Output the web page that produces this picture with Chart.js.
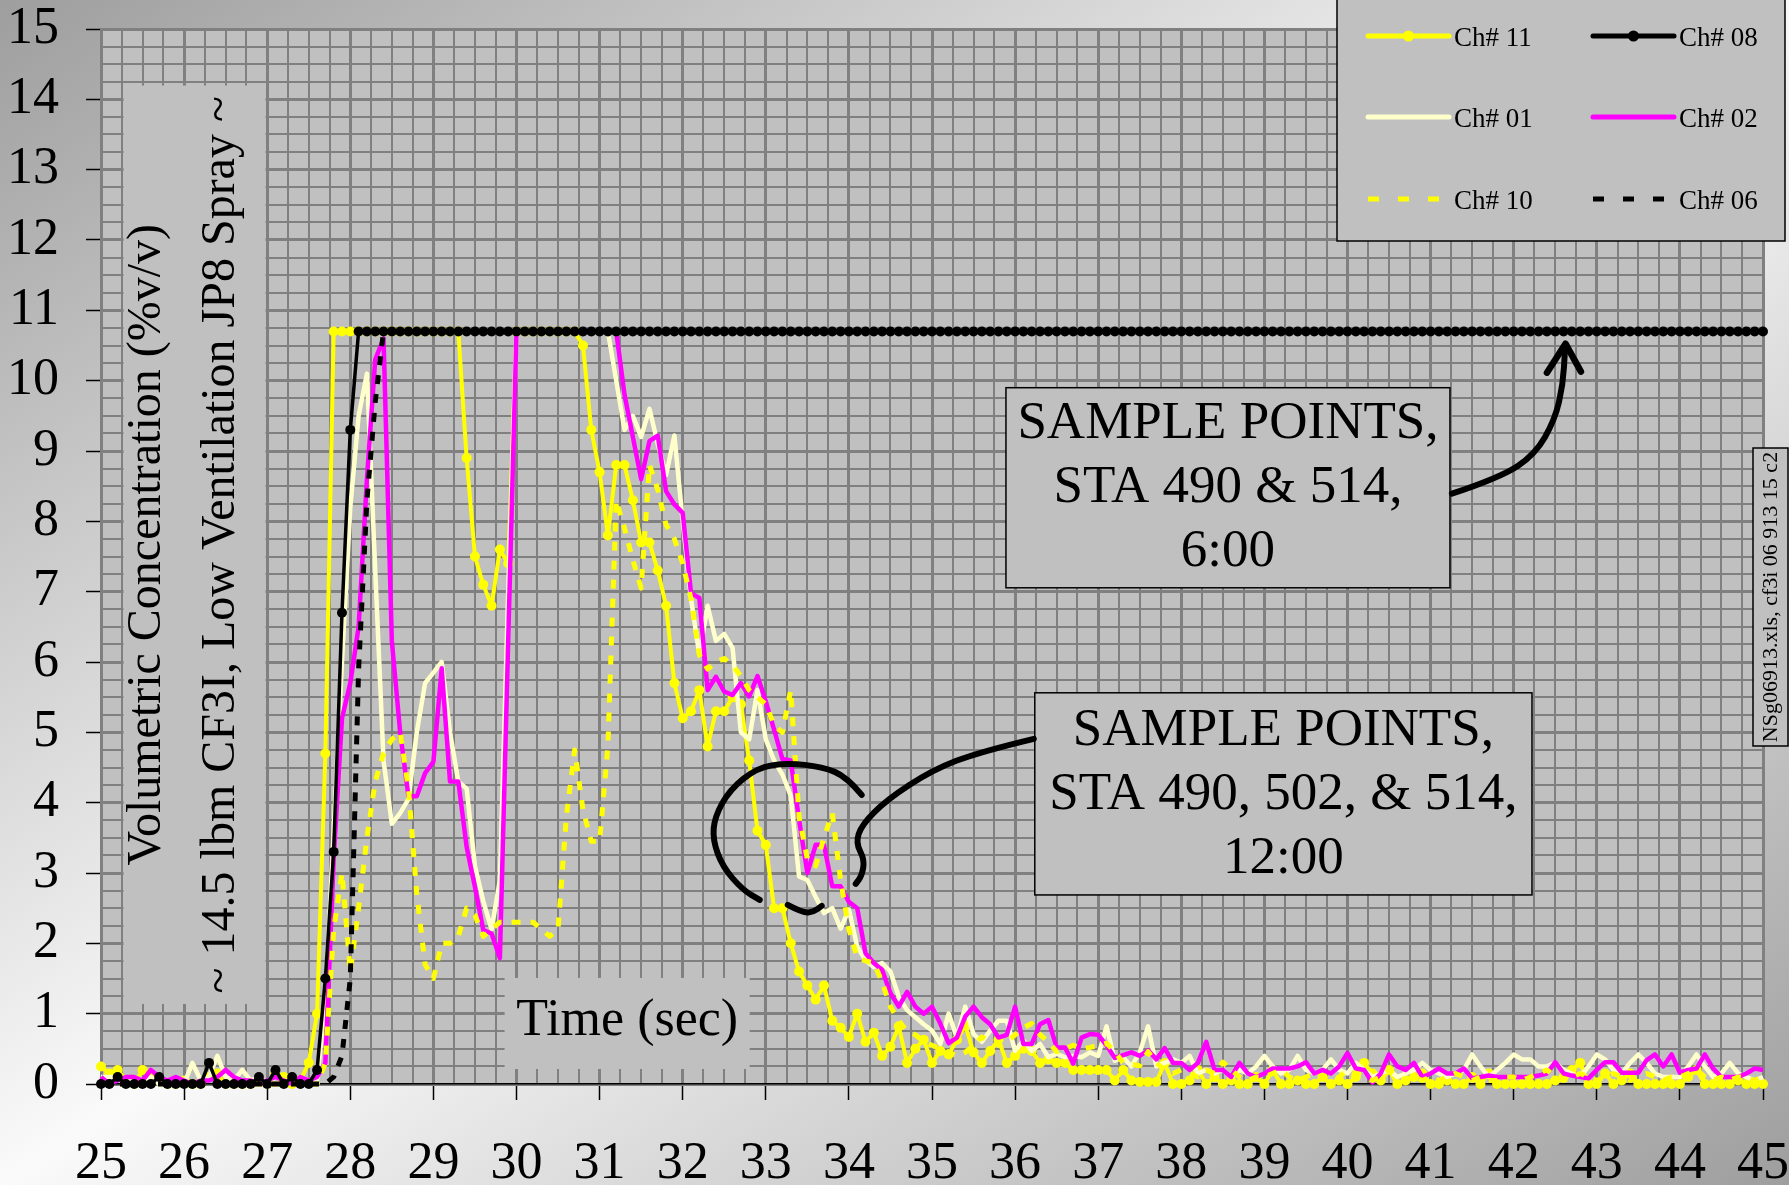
<!DOCTYPE html>
<html>
<head>
<meta charset="utf-8">
<title>Volumetric Concentration - CF3I Low Ventilation JP8 Spray</title>
<script src="https://cdn.jsdelivr.net/npm/chart.js@4.4.1/dist/chart.umd.min.js"></script>
<style>
  html, body { margin: 0; padding: 0; background: #fff; }
  canvas { display: block; }
</style>
</head>
<body>
<canvas id="concChart" width="1789" height="1185"></canvas>
<script>
// sample times (sec), 0.1 s apart
const times = [
  25.0, 25.1, 25.2, 25.3, 25.4, 25.5, 25.6, 25.7, 25.8, 25.9,
  26.0, 26.1, 26.2, 26.3, 26.4, 26.5, 26.6, 26.7, 26.8, 26.9,
  27.0, 27.1, 27.2, 27.3, 27.4, 27.5, 27.6, 27.7, 27.8, 27.9,
  28.0, 28.1, 28.2, 28.3, 28.4, 28.5, 28.6, 28.7, 28.8, 28.9,
  29.0, 29.1, 29.2, 29.3, 29.4, 29.5, 29.6, 29.7, 29.8, 29.9,
  30.0, 30.1, 30.2, 30.3, 30.4, 30.5, 30.6, 30.7, 30.8, 30.9,
  31.0, 31.1, 31.2, 31.3, 31.4, 31.5, 31.6, 31.7, 31.8, 31.9,
  32.0, 32.1, 32.2, 32.3, 32.4, 32.5, 32.6, 32.7, 32.8, 32.9,
  33.0, 33.1, 33.2, 33.3, 33.4, 33.5, 33.6, 33.7, 33.8, 33.9,
  34.0, 34.1, 34.2, 34.3, 34.4, 34.5, 34.6, 34.7, 34.8, 34.9,
  35.0, 35.1, 35.2, 35.3, 35.4, 35.5, 35.6, 35.7, 35.8, 35.9,
  36.0, 36.1, 36.2, 36.3, 36.4, 36.5, 36.6, 36.7, 36.8, 36.9,
  37.0, 37.1, 37.2, 37.3, 37.4, 37.5, 37.6, 37.7, 37.8, 37.9,
  38.0, 38.1, 38.2, 38.3, 38.4, 38.5, 38.6, 38.7, 38.8, 38.9,
  39.0, 39.1, 39.2, 39.3, 39.4, 39.5, 39.6, 39.7, 39.8, 39.9,
  40.0, 40.1, 40.2, 40.3, 40.4, 40.5, 40.6, 40.7, 40.8, 40.9,
  41.0, 41.1, 41.2, 41.3, 41.4, 41.5, 41.6, 41.7, 41.8, 41.9,
  42.0, 42.1, 42.2, 42.3, 42.4, 42.5, 42.6, 42.7, 42.8, 42.9,
  43.0, 43.1, 43.2, 43.3, 43.4, 43.5, 43.6, 43.7, 43.8, 43.9,
  44.0, 44.1, 44.2, 44.3, 44.4, 44.5, 44.6, 44.7, 44.8, 44.9,
  45.0
];

// %v/v readings per channel (sensor saturates at 10.7)
const ch11 = [
  0.25, 0.15, 0.2, 0.05, 0, 0.2, 0.1, 0.05, 0, 0,
  0.05, 0, 0, 0.1, 0.15, 0, 0, 0, 0, 0.05,
  0, 0.15, 0.1, 0, 0.05, 0.3, 1.0, 4.7, 10.7, 10.7,
  10.7, 10.7, 10.7, 10.7, 10.7, 10.7, 10.7, 10.7, 10.7, 10.7,
  10.7, 10.7, 10.7, 10.7, 8.9, 7.5, 7.1, 6.8, 7.6, 7.4,
  10.7, 10.7, 10.7, 10.7, 10.7, 10.7, 10.7, 10.7, 10.5, 9.3,
  8.7, 7.8, 8.8, 8.8, 8.3, 7.7, 7.7, 7.3, 6.8, 5.7,
  5.2, 5.3, 5.6, 4.8, 5.3, 5.3, 5.5, 5.4, 4.6, 3.6,
  3.4, 2.5, 2.5, 2.0, 1.6, 1.4, 1.2, 1.4, 0.9, 0.8,
  0.67, 1.0, 0.6, 0.73, 0.4, 0.53, 0.82, 0.3, 0.5, 0.63,
  0.3, 0.47, 0.42, 0.63, 0.83, 0.45, 0.3, 0.47, 0.63, 0.3,
  0.4, 0.5, 0.47, 0.3, 0.35, 0.3, 0.3, 0.2, 0.2, 0.2,
  0.2, 0.2, 0.05, 0.2, 0.05, 0.03, 0.03, 0.03, 0.3, 0,
  0, 0.05, 0.2, 0, 0.1, 0, 0.05, 0, 0, 0.1,
  0, 0.2, 0, 0, 0.05, 0, 0, 0.1, 0, 0.05,
  0, 0.1, 0.3, 0.15, 0.05, 0.2, 0, 0.05, 0.1, 0.15,
  0, 0, 0.05, 0, 0, 0.1, 0, 0.15, 0, 0,
  0, 0, 0, 0, 0, 0.05, 0.1, 0.2, 0.3, 0,
  0, 0.15, 0, 0.05, 0.15, 0, 0, 0, 0, 0,
  0, 0.1, 0.2, 0, 0, 0, 0, 0.05, 0, 0,
  0
];

const ch08 = [
  0, 0, 0.1, 0, 0, 0, 0, 0.1, 0, 0,
  0, 0, 0, 0.3, 0, 0, 0, 0, 0, 0.1,
  0, 0.2, 0, 0.1, 0, 0, 0.2, 1.5, 3.3, 6.7,
  9.3, 10.7, 10.7, 10.7, 10.7, 10.7, 10.7, 10.7, 10.7, 10.7,
  10.7, 10.7, 10.7, 10.7, 10.7, 10.7, 10.7, 10.7, 10.7, 10.7,
  10.7, 10.7, 10.7, 10.7, 10.7, 10.7, 10.7, 10.7, 10.7, 10.7,
  10.7, 10.7, 10.7, 10.7, 10.7, 10.7, 10.7, 10.7, 10.7, 10.7,
  10.7, 10.7, 10.7, 10.7, 10.7, 10.7, 10.7, 10.7, 10.7, 10.7,
  10.7, 10.7, 10.7, 10.7, 10.7, 10.7, 10.7, 10.7, 10.7, 10.7,
  10.7, 10.7, 10.7, 10.7, 10.7, 10.7, 10.7, 10.7, 10.7, 10.7,
  10.7, 10.7, 10.7, 10.7, 10.7, 10.7, 10.7, 10.7, 10.7, 10.7,
  10.7, 10.7, 10.7, 10.7, 10.7, 10.7, 10.7, 10.7, 10.7, 10.7,
  10.7, 10.7, 10.7, 10.7, 10.7, 10.7, 10.7, 10.7, 10.7, 10.7,
  10.7, 10.7, 10.7, 10.7, 10.7, 10.7, 10.7, 10.7, 10.7, 10.7,
  10.7, 10.7, 10.7, 10.7, 10.7, 10.7, 10.7, 10.7, 10.7, 10.7,
  10.7, 10.7, 10.7, 10.7, 10.7, 10.7, 10.7, 10.7, 10.7, 10.7,
  10.7, 10.7, 10.7, 10.7, 10.7, 10.7, 10.7, 10.7, 10.7, 10.7,
  10.7, 10.7, 10.7, 10.7, 10.7, 10.7, 10.7, 10.7, 10.7, 10.7,
  10.7, 10.7, 10.7, 10.7, 10.7, 10.7, 10.7, 10.7, 10.7, 10.7,
  10.7, 10.7, 10.7, 10.7, 10.7, 10.7, 10.7, 10.7, 10.7, 10.7,
  10.7
];

const ch01 = [
  0.1, 0.1, 0.1, 0, 0.1, 0.05, 0.1, 0, 0.05, 0,
  0, 0.3, 0.05, 0.1, 0.4, 0.1, 0.05, 0.2, 0.05, 0.1,
  0, 0.1, 0.05, 0, 0, 0, 0.05, 1.2, 3.6, 6.0,
  8.2, 9.5, 10.1, 7.3, 4.6, 3.7, 3.85, 4.05, 5.0, 5.7,
  5.85, 6.0, 5.0, 4.3, 4.2, 3.1, 2.6, 2.2, 2.9, 7.0,
  10.7, 10.7, 10.7, 10.7, 10.7, 10.7, 10.7, 10.7, 10.7, 10.7,
  10.7, 10.7, 10.0, 9.3, 9.5, 9.2, 9.6, 9.1, 8.66, 9.22,
  8.0, 6.9, 6.1, 6.8, 6.3, 6.4, 6.2, 5.0, 4.9, 5.6,
  4.9, 4.6, 4.4, 4.1, 2.95, 2.9, 2.66, 2.43, 2.5, 2.21,
  2.48, 1.95, 1.76, 1.66, 1.72, 1.6, 1.24, 1.05, 0.95, 0.85,
  0.76, 0.57, 1.0, 0.66, 1.1, 0.71, 0.6, 0.76, 0.9, 0.9,
  0.47, 0.62, 0.47, 0.57, 0.38, 0.43, 0.38, 0.4, 0.38, 0.45,
  0.4, 0.82, 0.33, 0.38, 0.25, 0.45, 0.82, 0.25, 0.3, 0.35,
  0.3, 0.4, 0.15, 0.2, 0.15, 0.2, 0.1, 0.2, 0.15, 0.25,
  0.4, 0.25, 0.15, 0.2, 0.4, 0.2, 0.15, 0.2, 0.35, 0.2,
  0.15, 0.3, 0.2, 0.1, 0.15, 0.2, 0.1, 0.15, 0.2, 0.3,
  0.2, 0.15, 0.1, 0.15, 0.2, 0.42, 0.25, 0.1, 0.2, 0.3,
  0.42, 0.35, 0.35, 0.25, 0.25, 0.3, 0.2, 0.15, 0.1, 0.25,
  0.42, 0.35, 0.2, 0.15, 0.3, 0.42, 0.3, 0.15, 0.1, 0.1,
  0.1, 0.25, 0.42, 0.25, 0.1, 0.15, 0.3, 0.15, 0.1, 0.05,
  0.1
];

const ch02 = [
  0.1, 0, 0.05, 0.1, 0.1, 0.05, 0.2, 0.1, 0.05, 0.1,
  0.05, 0, 0.05, 0.05, 0.1, 0.2, 0.1, 0.05, 0.05, 0,
  0.05, 0.1, 0.05, 0, 0.1, 0.05, 0.1, 0.3, 3.2, 5.2,
  5.7, 6.5, 8.6, 10.3, 10.6, 6.3, 5.0, 4.09, 4.09, 4.42,
  4.58, 5.91, 4.3, 4.3, 3.37, 2.8, 2.19, 2.14, 1.79, 6.3,
  10.7, 10.7, 10.7, 10.7, 10.7, 10.7, 10.7, 10.7, 10.7, 10.7,
  10.7, 10.7, 10.7, 9.8, 9.2, 8.6, 9.14, 9.22, 8.43, 8.24,
  8.12, 6.98, 6.91, 5.6, 5.79, 5.58, 5.53, 5.7, 5.51, 5.8,
  5.44, 5.04, 4.62, 4.6, 3.76, 3.0, 3.4, 3.4, 2.81, 2.81,
  2.59, 2.5, 1.86, 1.72, 1.62, 1.29, 1.1, 1.31, 1.1, 1.0,
  1.1, 0.86, 0.58, 0.66, 0.96, 1.1, 0.95, 0.85, 0.66, 0.7,
  1.1, 0.57, 0.57, 0.85, 0.91, 0.52, 0.52, 0.29, 0.66, 0.71,
  0.7, 0.55, 0.37, 0.41, 0.45, 0.4, 0.48, 0.35, 0.51, 0.3,
  0.3, 0.2, 0.3, 0.6, 0.2, 0.2, 0.1, 0.3, 0.15, 0.1,
  0.15, 0.22, 0.22, 0.22, 0.25, 0.31, 0.15, 0.2, 0.15, 0.25,
  0.44, 0.22, 0.2, 0.02, 0.15, 0.42, 0.25, 0.2, 0.3, 0.1,
  0.15, 0.22, 0.15, 0.15, 0.22, 0.08, 0.1, 0.12, 0.1, 0.1,
  0.1, 0.1, 0.1, 0.12, 0.15, 0.31, 0.15, 0.12, 0.1, 0.08,
  0.2, 0.31, 0.31, 0.16, 0.16, 0.16, 0.34, 0.42, 0.25, 0.42,
  0.16, 0.2, 0.22, 0.42, 0.22, 0.1, 0.1, 0.1, 0.15, 0.22,
  0.2
];

const ch10 = [
  0, 0, 0, 0, 0, 0, 0, 0, 0, 0,
  0, 0, 0, 0, 0, 0, 0, 0, 0, 0,
  0, 0, 0, 0, 0, 0, 0, 0.3, 2.2, 3.0,
  1.6, 2.5, 3.5, 4.3, 4.7, 4.9, 5.0, 4.2, 2.7, 1.7,
  1.5, 2.0, 2.0, 2.1, 2.5, 2.4, 2.1, 2.2, 2.3, 2.3,
  2.3, 2.3, 2.3, 2.2, 2.1, 2.2, 3.8, 4.75, 3.9, 3.45,
  3.45, 4.8, 8.3, 7.9, 7.45, 7.05, 8.8, 8.45, 7.95, 7.75,
  7.4, 6.9, 6.1, 5.9, 6.0, 6.05, 5.95, 5.8, 5.6, 5.5,
  5.4, 5.1, 5.0, 5.6, 3.8, 3.2, 3.1, 3.5, 3.85, 2.9,
  2.2, 1.8, 1.75, 1.72, 1.45, 1.1, 0.9, 0.75, 0.7, 0.6,
  0.55, 0.5, 0.45, 0.4, 0.45, 0.55, 0.67, 0.6, 0.55, 0.6,
  0.7, 0.8, 0.86, 0.7, 0.6, 0.46, 0.5, 0.55, 0.5, 0.52,
  0.55, 0.58, 0.46, 0.3, 0.28, 0.26, 0.46, 0.3, 0.2, 0.15,
  0.2, 0.15, 0.1, 0.2, 0.15, 0.31, 0.2, 0.1, 0.05, 0.1,
  0.1, 0.15, 0.2, 0.1, 0.05, 0.1, 0.15, 0.1, 0.05, 0.1,
  0.2, 0.15, 0.1, 0.05, 0.1, 0.2, 0.1, 0.05, 0.1, 0.05,
  0.1, 0.05, 0.1, 0.15, 0.1, 0.05, 0.1, 0.05, 0.05, 0.1,
  0.1, 0.05, 0.1, 0.15, 0.2, 0.1, 0.05, 0.1, 0.15, 0.1,
  0.05, 0.1, 0.15, 0.1, 0.05, 0.1, 0.15, 0.1, 0.05, 0.1,
  0.1, 0.15, 0.2, 0.1, 0.05, 0.1, 0.05, 0.1, 0.1, 0.05,
  0.1
];

const ch06 = [
  0, 0, 0, 0, 0, 0, 0, 0, 0, 0,
  0, 0, 0, 0, 0, 0, 0, 0, 0, 0,
  0, 0, 0, 0, 0, 0, 0, 0, 0.1, 0.4,
  1.5, 5.9, 8.3, 9.7, 10.7, 10.7, 10.7, 10.7, 10.7, 10.7,
  10.7, 10.7, 10.7, 10.7, 10.7, 10.7, 10.7, 10.7, 10.7, 10.7,
  10.7, 10.7, 10.7, 10.7, 10.7, 10.7, 10.7, 10.7, 10.7, 10.7,
  10.7, 10.7, 10.7, 10.7, 10.7, 10.7, 10.7, 10.7, 10.7, 10.7,
  10.7, 10.7, 10.7, 10.7, 10.7, 10.7, 10.7, 10.7, 10.7, 10.7,
  10.7, 10.7, 10.7, 10.7, 10.7, 10.7, 10.7, 10.7, 10.7, 10.7,
  10.7, 10.7, 10.7, 10.7, 10.7, 10.7, 10.7, 10.7, 10.7, 10.7,
  10.7, 10.7, 10.7, 10.7, 10.7, 10.7, 10.7, 10.7, 10.7, 10.7,
  10.7, 10.7, 10.7, 10.7, 10.7, 10.7, 10.7, 10.7, 10.7, 10.7,
  10.7, 10.7, 10.7, 10.7, 10.7, 10.7, 10.7, 10.7, 10.7, 10.7,
  10.7, 10.7, 10.7, 10.7, 10.7, 10.7, 10.7, 10.7, 10.7, 10.7,
  10.7, 10.7, 10.7, 10.7, 10.7, 10.7, 10.7, 10.7, 10.7, 10.7,
  10.7, 10.7, 10.7, 10.7, 10.7, 10.7, 10.7, 10.7, 10.7, 10.7,
  10.7, 10.7, 10.7, 10.7, 10.7, 10.7, 10.7, 10.7, 10.7, 10.7,
  10.7, 10.7, 10.7, 10.7, 10.7, 10.7, 10.7, 10.7, 10.7, 10.7,
  10.7, 10.7, 10.7, 10.7, 10.7, 10.7, 10.7, 10.7, 10.7, 10.7,
  10.7, 10.7, 10.7, 10.7, 10.7, 10.7, 10.7, 10.7, 10.7, 10.7,
  10.7
];

const SERIF = '"Liberation Serif", "Times New Roman", serif';
const yTitle = ["Volumetric Concentration (%v/v)", "~ 14.5 lbm CF3I, Low Ventilation JP8 Spray ~"];
const xTitle = "Time (sec)";
const fileTag = "NSg06913.xls, cf3i 06 913 15 c2";

// text boxes and hand-drawn callouts, placed in data units (sec, %v/v)
const notes = [
  { x0: 35.89, x1: 41.233, y0: 9.9, y1: 7.055, lineY: [9.381, 8.478, 7.568],
    lines: ["SAMPLE POINTS,", "STA 490 & 514,", "6:00"] },
  { x0: 36.237, x1: 42.22, y0: 5.562, y1: 2.688, lineY: [5.021, 4.111, 3.201],
    lines: ["SAMPLE POINTS,", "STA 490, 502, & 514,", "12:00"] }
];
const arrowUp = [[41.256, 8.393], [41.834, 8.62], [42.255, 8.947], [42.496, 9.445], [42.593, 9.943], [42.617, 10.441]];
const arrowHead = [[42.4, 10.114], [42.623, 10.526], [42.809, 10.128]];
const hook = [[36.225, 4.908], [35.575, 4.723], [35.009, 4.467], [34.455, 4.04], [34.154, 3.684], [34.082, 3.428], [34.19, 3.186], [34.154, 2.959], [34.082, 2.845]];
const loop = [[34.154, 4.111], [33.974, 4.367], [33.685, 4.509], [33.252, 4.566], [32.891, 4.495], [32.565, 4.182], [32.385, 3.798], [32.361, 3.471], [32.481, 3.087], [32.722, 2.76], [32.927, 2.617]];
const smile = [[33.264, 2.546], [33.444, 2.432], [33.577, 2.447], [33.673, 2.532]];

function pts(values) {
  return times.map((t, i) => ({ x: t, y: values[i] }));
}

const common = { tension: 0, clip: false, borderJoinStyle: "round", pointBorderWidth: 0, pointRadius: 0 };

// first dataset is drawn on top
const datasets = [
  { ...common, label: "Ch# 06", data: pts(ch06), borderColor: "#000000", borderWidth: 5, borderDash: [9, 10] },
  { ...common, label: "Ch# 08", data: pts(ch08), borderColor: "#000000", borderWidth: 3.5, pointRadius: 5, pointBackgroundColor: "#000000" },
  { ...common, label: "Ch# 10", data: pts(ch10), borderColor: "#ffff00", borderWidth: 5, borderDash: [9, 10] },
  { ...common, label: "Ch# 02", data: pts(ch02), borderColor: "#ff00ff", borderWidth: 4.5 },
  { ...common, label: "Ch# 01", data: pts(ch01), borderColor: "#ffffcc", borderWidth: 4.5 },
  { ...common, label: "Ch# 11", data: pts(ch11), borderColor: "#ffff00", borderWidth: 4, pointRadius: 5, pointBackgroundColor: "#ffff00" }
];

const legendRows = [["Ch# 11", "Ch# 08"], ["Ch# 01", "Ch# 02"], ["Ch# 10", "Ch# 06"]];

function smoothPath(ctx, p) {
  ctx.beginPath();
  ctx.moveTo(p[0][0], p[0][1]);
  for (let i = 1; i < p.length - 1; i++) {
    const mx = (p[i][0] + p[i + 1][0]) / 2;
    const my = (p[i][1] + p[i + 1][1]) / 2;
    ctx.quadraticCurveTo(p[i][0], p[i][1], mx, my);
  }
  ctx.lineTo(p[p.length - 1][0], p[p.length - 1][1]);
  ctx.stroke();
}

const decor = {
  id: "decor",
  beforeDraw(chart) {
    const { ctx, width: W, height: H, chartArea: a } = chart;
    const k = (W * H) / (W * W + H * H);
    const g = ctx.createLinearGradient(W / 2 - k * H, H / 2 - k * W, W / 2 + k * H, H / 2 + k * W);
    g.addColorStop(0, "#9e9e9e");
    g.addColorStop(0.5, "#fafafa");
    g.addColorStop(1, "#9e9e9e");
    ctx.save();
    ctx.fillStyle = g;
    ctx.fillRect(0, 0, W, H);
    ctx.fillStyle = "#c0c0c0";
    ctx.fillRect(a.left, a.top, a.right - a.left, a.bottom - a.top);
    ctx.restore();
  },
  afterDatasetsDraw(chart) {
    const { ctx, scales: { x, y } } = chart;
    const px = v => x.getPixelForValue(v);
    const py = v => y.getPixelForValue(v);
    const toPx = list => list.map(([t, v]) => [px(t), py(v)]);
    ctx.save();

    // axis title box inside the plot
    ctx.fillStyle = "#c0c0c0";
    ctx.fillRect(px(25.271), py(14.196), px(26.98) - px(25.271), py(1.138) - py(14.196));
    ctx.fillStyle = "#000";
    ctx.font = `48px ${SERIF}`;
    ctx.textAlign = "center";
    ctx.textBaseline = "middle";
    [25.56, 26.45].forEach((t, i) => {
      ctx.save();
      ctx.translate(px(t), py(7.667));
      ctx.rotate(-Math.PI / 2);
      ctx.fillText(yTitle[i], 0, 0);
      ctx.restore();
    });

    // time label box
    ctx.fillStyle = "#c0c0c0";
    ctx.fillRect(px(29.857), py(1.508), px(32.806) - px(29.857), py(0.213) - py(1.508));
    ctx.fillStyle = "#000";
    ctx.font = `52px ${SERIF}`;
    ctx.fillText(xTitle, px(31.332), py(0.896));

    // sample point notes
    notes.forEach(n => {
      const l = px(n.x0), t = py(n.y0), w = px(n.x1) - l, h = py(n.y1) - t;
      ctx.fillStyle = "#c0c0c0";
      ctx.fillRect(l, t, w, h);
      ctx.strokeStyle = "#000";
      ctx.lineWidth = 1.5;
      ctx.strokeRect(l, t, w, h);
      ctx.fillStyle = "#000";
      ctx.font = `53px ${SERIF}`;
      n.lines.forEach((s, i) => ctx.fillText(s, l + w / 2, py(n.lineY[i])));
    });

    // callout strokes
    ctx.strokeStyle = "#000";
    ctx.lineWidth = 6;
    ctx.lineCap = "round";
    ctx.lineJoin = "round";
    smoothPath(ctx, toPx(arrowUp));
    const head = toPx(arrowHead);
    ctx.lineWidth = 6.5;
    ctx.beginPath();
    ctx.moveTo(head[0][0], head[0][1]);
    ctx.lineTo(head[1][0], head[1][1]);
    ctx.lineTo(head[2][0], head[2][1]);
    ctx.stroke();
    ctx.lineWidth = 6;
    smoothPath(ctx, toPx(hook));
    smoothPath(ctx, toPx(loop));
    smoothPath(ctx, toPx(smile));
    ctx.restore();
  },
  afterDraw(chart) {
    const { ctx, width: W } = chart;
    const byLabel = {};
    chart.data.datasets.forEach(d => { byLabel[d.label] = d; });
    ctx.save();

    // legend box
    const left = W - 452;
    ctx.fillStyle = "#c0c0c0";
    ctx.fillRect(left, -2, 448, 243);
    ctx.strokeStyle = "#000";
    ctx.lineWidth = 1.5;
    ctx.strokeRect(left, -2, 448, 243);
    const cols = [left + 31, left + 256];
    const rowsY = [36, 117, 199];
    ctx.font = `27px ${SERIF}`;
    ctx.textAlign = "left";
    ctx.textBaseline = "alphabetic";
    legendRows.forEach((row, r) => {
      row.forEach((label, c) => {
        const d = byLabel[label];
        const x0 = cols[c], x1 = x0 + 81, yy = rowsY[r];
        ctx.strokeStyle = d.borderColor;
        ctx.lineWidth = 5;
        if (d.borderDash) {
          ctx.setLineDash([11, 19]);
          ctx.lineCap = "butt";
        } else {
          ctx.setLineDash([]);
          ctx.lineCap = "round";
        }
        ctx.beginPath();
        ctx.moveTo(x0, yy);
        ctx.lineTo(x1, yy);
        ctx.stroke();
        ctx.setLineDash([]);
        if (d.pointRadius > 0) {
          ctx.fillStyle = d.pointBackgroundColor;
          ctx.beginPath();
          ctx.arc((x0 + x1) / 2, yy, 5.5, 0, Math.PI * 2);
          ctx.fill();
        }
        ctx.fillStyle = "#000";
        ctx.fillText(label, x1 + 5, yy + 10);
      });
    });

    // file tag on the right edge
    ctx.fillStyle = "#c0c0c0";
    ctx.fillRect(W - 36, 448, 35, 298);
    ctx.strokeStyle = "#000";
    ctx.lineWidth = 1.5;
    ctx.strokeRect(W - 36, 448, 35, 298);
    ctx.fillStyle = "#000";
    ctx.font = `22px ${SERIF}`;
    ctx.textAlign = "center";
    ctx.textBaseline = "middle";
    ctx.translate(W - 18, 597);
    ctx.rotate(-Math.PI / 2);
    ctx.fillText(fileTag, 0, 0);
    ctx.restore();
  }
};

const isMajor = c => c.tick && Number.isInteger(c.tick.value);

new Chart(document.getElementById("concChart"), {
  type: "line",
  data: { datasets },
  options: {
    responsive: false,
    animation: false,
    devicePixelRatio: 1,
    layout: { padding: { top: 29, right: 26, left: 0, bottom: 0 } },
    plugins: { legend: { display: false }, tooltip: { enabled: false } },
    scales: {
      x: {
        type: "linear",
        min: 25,
        max: 45,
        afterFit: s => { s.height = 101; s.paddingLeft = 0; s.paddingRight = 0; },
        ticks: {
          stepSize: 0.25,
          autoSkip: false,
          maxRotation: 0,
          padding: 38,
          color: "#000",
          font: { family: SERIF, size: 52, lineHeight: 1 },
          callback: v => (Number.isInteger(v) ? String(v) : "")
        },
        grid: {
          color: "#808080",
          lineWidth: c => (isMajor(c) ? 3 : 2),
          tickColor: c => (isMajor(c) ? "#000" : "rgba(0,0,0,0)"),
          tickLength: 16,
          tickWidth: 1.5
        },
        border: { color: "#000", width: 1.5 }
      },
      y: {
        min: 0,
        max: 15,
        afterFit: s => { s.width = 101; s.paddingTop = 0; s.paddingBottom = 0; },
        ticks: {
          stepSize: 0.25,
          autoSkip: false,
          padding: 27,
          color: "#000",
          font: { family: SERIF, size: 52, lineHeight: 1 },
          callback: v => (Number.isInteger(v) ? String(v) : "")
        },
        grid: {
          color: "#808080",
          lineWidth: c => (isMajor(c) ? 3 : 2),
          tickColor: c => (isMajor(c) ? "#000" : "rgba(0,0,0,0)"),
          tickLength: 15,
          tickWidth: 1.5
        },
        border: { color: "#808080", width: 3 }
      }
    }
  },
  plugins: [decor]
});
</script>
</body>
</html>
